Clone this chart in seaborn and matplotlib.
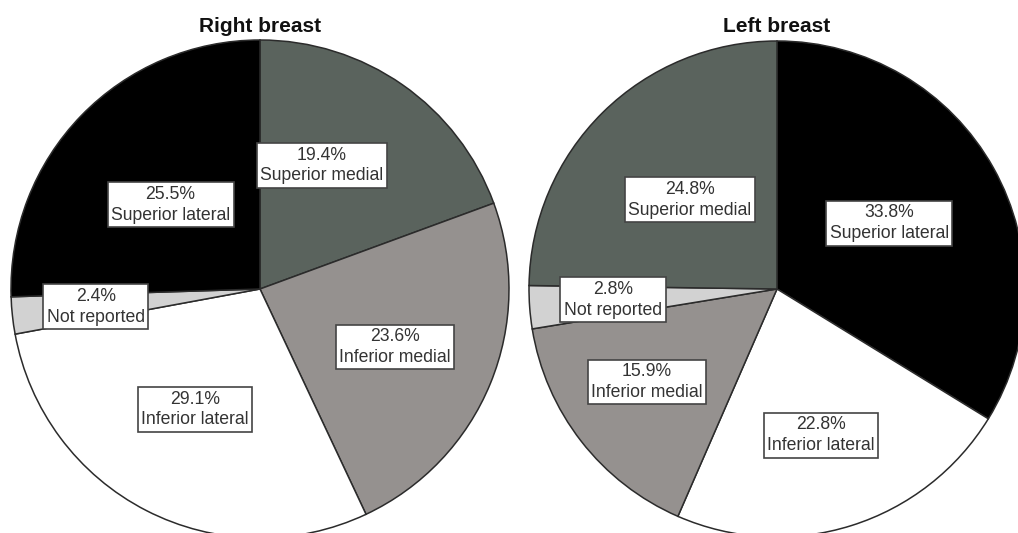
import matplotlib
matplotlib.use("Agg")
import matplotlib.pyplot as plt
import seaborn as sns

sns.set_theme(style="white")
plt.rcParams["font.family"] = ["Liberation Sans", "DejaVu Sans"]

# Tumour location by quadrant (percent of cases), listed clockwise from 12 o'clock
right_categories = ["Superior medial", "Inferior medial", "Inferior lateral",
                    "Not reported", "Superior lateral"]
right_values = [19.4, 23.6, 29.1, 2.4, 25.5]

left_categories = ["Superior lateral", "Inferior lateral", "Inferior medial",
                   "Not reported", "Superior medial"]
left_values = [33.8, 22.8, 15.9, 2.8, 24.8]

titles = ["Right breast", "Left breast"]

quadrant_colors = {
    "Superior lateral": "#000000",
    "Superior medial": "#5a635d",
    "Inferior medial": "#95918f",
    "Inferior lateral": "#ffffff",
    "Not reported": "#d2d2d2",
}

# Label box centres, as offsets from the pie centre in units of the radius
right_label_pos = {
    "Superior medial": (0.249, 0.496),
    "Inferior medial": (0.542, -0.233),
    "Inferior lateral": (-0.261, -0.484),
    "Not reported": (-0.659, -0.072),
    "Superior lateral": (-0.359, 0.339),
}
left_label_pos = {
    "Superior lateral": (0.452, 0.266),
    "Inferior lateral": (0.177, -0.589),
    "Inferior medial": (-0.524, -0.375),
    "Not reported": (-0.661, -0.044),
    "Superior medial": (-0.351, 0.359),
}

W, H = 1018, 533
fig = plt.figure(figsize=(W / 100, H / 100), dpi=100)
ax = fig.add_axes([0, 0, 1, 1])

pies = [
    (right_categories, right_values, right_label_pos, (260, H - 289), 249, titles[0]),
    (left_categories, left_values, left_label_pos, (777, H - 289), 248, titles[1]),
]

for cats, vals, lpos, center, radius, title in pies:
    ax.pie(vals, colors=[quadrant_colors[c] for c in cats], startangle=90,
           counterclock=False, center=center, radius=radius,
           wedgeprops=dict(edgecolor="#2b2b2b", linewidth=1.1))
    for cat, val in zip(cats, vals):
        ox, oy = lpos[cat]
        ax.text(center[0] + ox * radius, center[1] + oy * radius,
                f"{val:.1f}%\n{cat}", ha="center", va="center",
                fontsize=12.7, color="#333333", linespacing=1.3,
                bbox=dict(boxstyle="square,pad=0.2", facecolor="white",
                          edgecolor="#444444", linewidth=1.2))
    ax.text(center[0], H - 26, title, ha="center", va="center",
            fontsize=15, fontweight="bold", color="#111111")

ax.set_xlim(0, W)
ax.set_ylim(0, H)
ax.set_aspect("auto")
ax.axis("off")

fig.savefig("out.png", dpi=100, facecolor="white")
